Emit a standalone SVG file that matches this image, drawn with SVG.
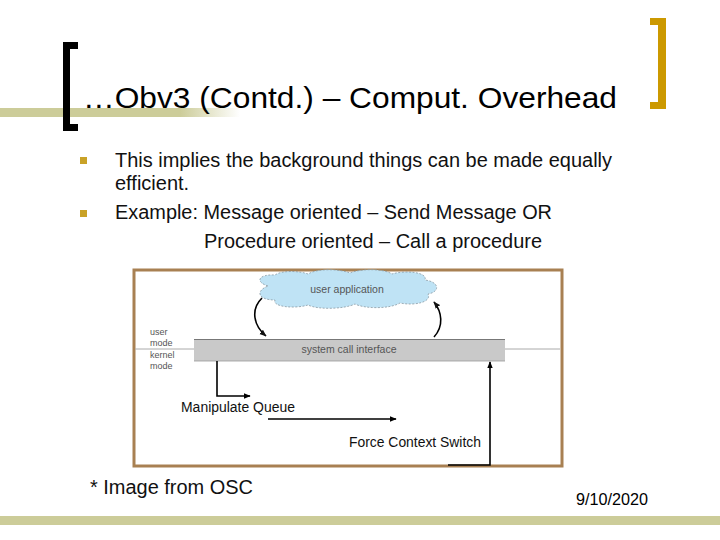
<svg xmlns="http://www.w3.org/2000/svg" width="720" height="540" viewBox="0 0 720 540">
<defs>
<linearGradient id="fade" x1="0" y1="0" x2="1" y2="0">
<stop offset="0" stop-color="#CCCC99"/>
<stop offset="0.75" stop-color="#CCCC99"/>
<stop offset="1" stop-color="#CCCC99" stop-opacity="0"/>
</linearGradient>
<marker id="ah" viewBox="0 0 10 10" refX="9" refY="5" markerWidth="7" markerHeight="7" orient="auto" markerUnits="userSpaceOnUse">
<path d="M0,1 L10,5 L0,9 z" fill="#000"/>
</marker>
<marker id="ahs" viewBox="0 0 10 10" refX="9" refY="5" markerWidth="7" markerHeight="7" orient="auto" markerUnits="userSpaceOnUse">
<path d="M0,1 L10,5 L0,9 z" fill="#111"/>
</marker>
</defs>
<style>
.t{font-family:"Liberation Sans",Arial,sans-serif;fill:#000}
.b{font-size:20px;fill:#111}
.s{font-family:"Liberation Sans",Arial,sans-serif;font-size:10.5px;fill:#555}
.m{font-family:"Liberation Sans",Arial,sans-serif;font-size:9px;fill:#555}
.l{font-family:"Liberation Sans",Arial,sans-serif;font-size:14px;fill:#111}
.line{stroke:#000;stroke-width:1.6;fill:none}
</style>
<rect width="720" height="540" fill="#fff"/>
<g id="decor">
<rect x="0" y="108" width="240" height="9" fill="url(#fade)"/>
<rect x="0" y="516" width="720" height="9" fill="#CCCC99"/>
<path d="M78,42 H63 V131 H78 V124 H70 V49 H78 Z" fill="#000"/>
<path d="M650,18 H666 V109 H650 V102 H658 V25 H650 Z" fill="#CC9900"/>
</g>
<g id="title"><text class="t" x="83" y="108" font-size="30" textLength="534" lengthAdjust="spacingAndGlyphs">…Obv3 (Contd.) – Comput. Overhead</text></g>
<g id="bullets">
<rect x="80" y="157" width="7" height="7" fill="#C9A227"/>
<rect x="80" y="210" width="7" height="7" fill="#C9A227"/>
<text class="t b" x="115" y="167" textLength="497" lengthAdjust="spacingAndGlyphs">This implies the background things can be made equally</text>
<text class="t b" x="115" y="190">efficient.</text>
<text class="t b" x="115" y="219" textLength="437" lengthAdjust="spacingAndGlyphs">Example: Message oriented – Send Message OR</text>
<text class="t b" x="204" y="248" textLength="338" lengthAdjust="spacingAndGlyphs">Procedure oriented – Call a procedure</text>
</g>
<g id="figure">
<rect x="134" y="270" width="428" height="196" fill="#fff" stroke="#A88052" stroke-width="3"/>
<line x1="135" y1="349" x2="560" y2="349" stroke="#aaa" stroke-width="1"/>
<g id="cloud">
<path d="M268,286 C255,282 258,274 275,275 C282,270 300,271 308,274 C318,268 340,269 350,273 C362,268 385,269 392,274 C405,270 428,272 425,280 C440,282 440,292 428,294 C432,302 415,306 400,303 C390,309 365,309 355,304 C345,309 318,310 308,305 C295,309 272,307 275,300 C258,300 255,291 268,286 Z" fill="#BFE3F5" stroke="#8a9aa5" stroke-width="0.8" stroke-dasharray="2,1.5"/>
<text class="s" x="347" y="293" text-anchor="middle" font-size="11.5">user application</text>
</g>
<g id="sci">
<rect x="194" y="339" width="311" height="22" fill="#C9C9C9"/>
<line x1="194" y1="339.5" x2="505" y2="339.5" stroke="#777" stroke-width="1"/>
<line x1="194" y1="361" x2="505" y2="361" stroke="#999" stroke-width="0.8"/>
<text class="s" x="349" y="353" text-anchor="middle" fill="#444" font-size="11">system call interface</text>
</g>
<g id="modes">
<text class="m" x="150" y="335">user</text>
<text class="m" x="150" y="345.5">mode</text>
<text class="m" x="150" y="358">kernel</text>
<text class="m" x="150" y="369">mode</text>
</g>
<g id="connectors">
<path d="M262,298 C250,310 254,326 266,336" class="line" stroke-width="1.2" marker-end="url(#ahs)"/>
<path d="M434,337 C444,326 442,312 434,302" class="line" stroke-width="1.2" marker-end="url(#ahs)"/>
<path d="M217,361 V396 H250" class="line" marker-end="url(#ah)"/>
<path d="M268,419 H396" class="line" marker-end="url(#ah)"/>
<path d="M448,465 H490 V362" class="line" marker-end="url(#ah)"/>
</g>
<text class="l" x="181" y="412" textLength="114" lengthAdjust="spacingAndGlyphs">Manipulate Queue</text>
<text class="l" x="349" y="447" textLength="132" lengthAdjust="spacingAndGlyphs">Force Context Switch</text>
</g>
<g id="footer">
<text class="t b" x="90" y="494" textLength="163" lengthAdjust="spacingAndGlyphs">* Image from OSC</text>
<text class="t" x="576" y="505" font-size="16" fill="#222" textLength="72" lengthAdjust="spacingAndGlyphs">9/10/2020</text>
</g>
</svg>
